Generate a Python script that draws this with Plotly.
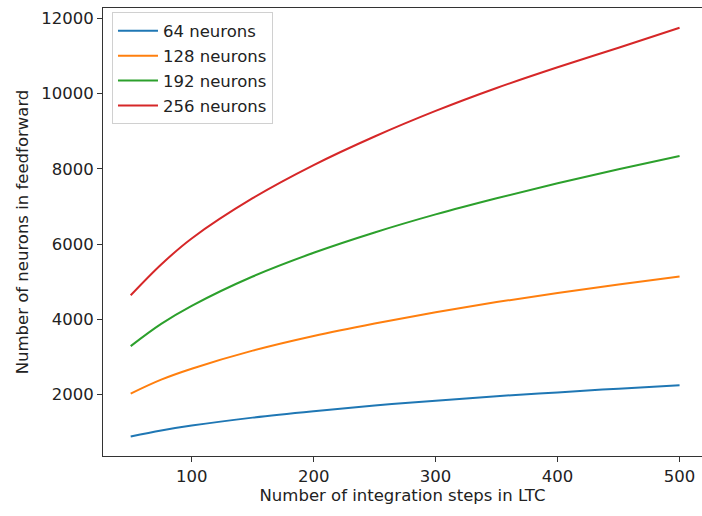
import plotly.graph_objects as go

steps = [50, 75, 100, 150, 200, 250, 300, 350, 400, 450, 500]
n64 = [890, 1050, 1180, 1390, 1560, 1710, 1840, 1960, 2060, 2160, 2250]
n128 = [2030, 2400, 2690, 3170, 3560, 3890, 4190, 4460, 4700, 4930, 5140]
n192 = [3290, 3880, 4360, 5140, 5770, 6310, 6790, 7220, 7620, 7990, 8340]
n256 = [4640, 5460, 6150, 7220, 8100, 8860, 9540, 10150, 10700, 11220, 11750]
x_ticks = [100, 200, 300, 400, 500]
y_ticks = [2000, 4000, 6000, 8000, 10000, 12000]

series = [("64 neurons", n64, "#1f77b4"), ("128 neurons", n128, "#ff7f0e"),
          ("192 neurons", n192, "#2ca02c"), ("256 neurons", n256, "#d62728")]

fig = go.Figure()
for i, (name, vals, col) in enumerate(series):
    fig.add_trace(go.Scatter(x=steps, y=vals, mode="lines", name=name,
                             line=dict(color=col, width=2, shape="spline", smoothing=1.0),
                             legendgroup=str(i)))

FS = 16.5
fig.update_layout(
    width=702, height=516,
    margin=dict(l=103, r=0, t=8, b=60),
    paper_bgcolor="white", plot_bgcolor="white",
    font=dict(family="DejaVu Sans", size=FS, color="#222"),
    showlegend=True,
    legend=dict(x=0.015, y=0.99, xanchor="left", yanchor="top",
                bordercolor="#d0d0d0", borderwidth=1, bgcolor="white",
                font=dict(family="DejaVu Sans", size=FS, color="#222"),
                tracegroupgap=0.5, itemwidth=40),
    xaxis=dict(range=[27.3, 518.4], tickvals=x_ticks, ticktext=[str(v) for v in x_ticks],
               automargin=False,
               showgrid=False, zeroline=False, showline=True, linecolor="#333",
               linewidth=1, mirror=True, ticks="outside", ticklen=5, tickcolor="#333",
               tickfont=dict(size=FS),
               title=dict(text="Number of integration steps in LTC", standoff=4,
                          font=dict(size=FS))),
    yaxis=dict(range=[370, 12275], tickvals=y_ticks, ticktext=[str(v) for v in y_ticks],
               automargin=False,
               showgrid=False, zeroline=False, showline=True, linecolor="#333",
               linewidth=1, mirror=False, ticks="outside", ticklen=5, tickcolor="#333",
               tickfont=dict(size=FS),
               title=dict(text="Number of neurons in feedforward", standoff=8,
                          font=dict(size=FS))),
)
fig.write_html("out.html", config={"displayModeBar": False},
               post_script="document.body.style.margin='0';")
